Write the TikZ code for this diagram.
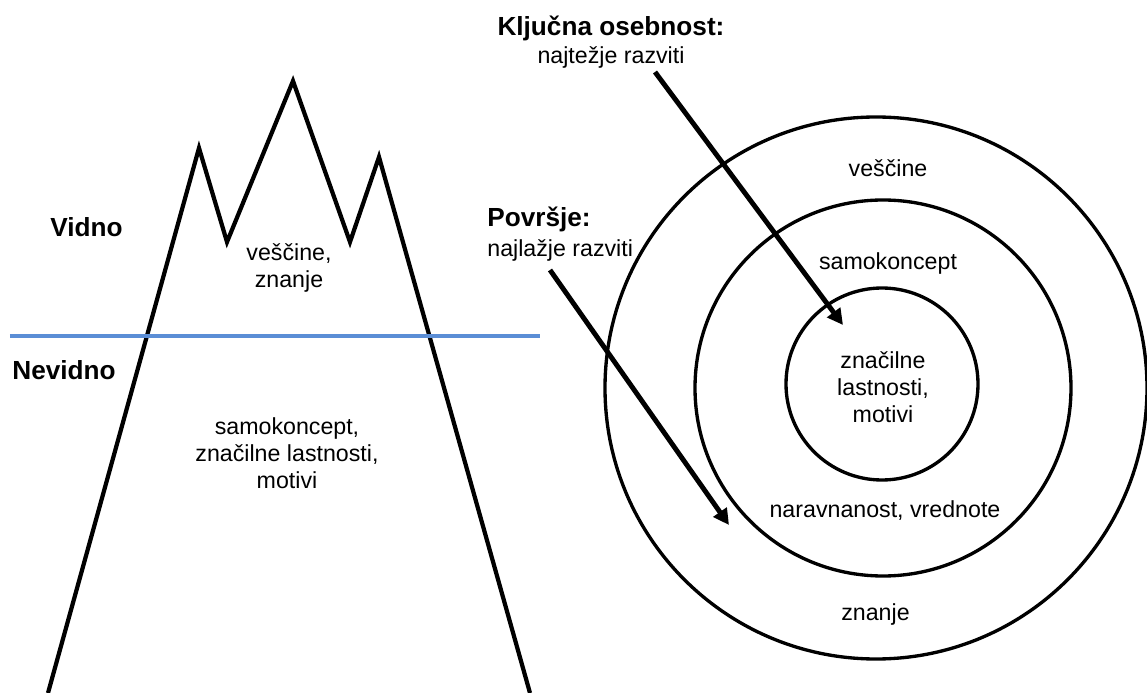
\documentclass[tikz,border=0pt]{standalone}
\usepackage{fontspec}
\setmainfont{Liberation Sans}
\usepackage{tikz}
\usetikzlibrary{arrows.meta}
\definecolor{SeaBlue}{HTML}{5B8ED6}

\tikzset{
  txt/.style={inner sep=0pt, align=center, font=\fontsize{13.2}{15.4}\selectfont},
  hdr/.style={inner sep=0pt, font=\bfseries\fontsize{14.9}{17}\selectfont},
  ring/.style={line width=1.9pt},
  pointer/.style={line width=2.8pt, -{Triangle[length=9pt,width=9pt]}}
}

\begin{document}
\begin{tikzpicture}
        \useasboundingbox (0,0) rectangle (22.94,-13.86);

        % ledena gora
        \coordinate (L) at (0.96,-13.86);
        \coordinate (P1) at (3.98,-2.96);
        \coordinate (V1) at (4.54,-4.84);
        \coordinate (P2) at (5.86,-1.62);
        \coordinate (V2) at (7.0,-4.84);
        \coordinate (P3) at (7.58,-3.14);
        \coordinate (R) at (10.6,-13.86);
        \draw[line width=2.4pt, line join=miter] (L) -- (P1) -- (V1) -- (P2) -- (V2) -- (P3) -- (R);

        \coordinate (W1) at (0.2,-6.72);
        \coordinate (W2) at (10.8,-6.72);
        \draw[SeaBlue, line width=1.9pt] (W1) -- (W2);

        \node[hdr, anchor=west] (vidno) at (1.0,-4.54) {Vidno};
        \node[hdr, anchor=west] (nevidno) at (0.24,-7.4) {Nevidno};
        \node[txt] (nad) at (5.78,-5.36) {veščine,\\ znanje};
        \node[txt] (pod) at (5.74,-9.06) {samokoncept,\\ značilne lastnosti,\\ motivi};

        % krogi
        \draw[ring] (17.52,-7.76) circle(5.42);
        \draw[ring] (17.66,-7.76) circle(3.76);
        \draw[ring] (17.64,-7.68) circle(1.92);

        \node[txt] (vescine) at (17.76,-3.36) {veščine};
        \node[txt] (samo) at (17.76,-5.28) {samokoncept};
        \node[txt] (jedro) at (17.66,-7.74) {značilne\\ lastnosti,\\ motivi};
        \node[txt] (narav) at (17.7,-10.22) {naravnanost, vrednote};
        \node[txt] (znanje) at (17.51,-12.3) {znanje};

        % oznake
        \node[hdr] (kljuc) at (12.22,-0.56) {Ključna osebnost:};
        \node[txt] (tezko) at (12.22,-1.14) {najtežje razviti};
        \node[hdr, anchor=west] (povrsje) at (9.74,-4.38) {Površje:};
        \node[txt, anchor=west] (lahko) at (9.74,-5.0) {najlažje razviti};

        \coordinate (A1) at (13.1,-1.44);
        \coordinate (B1) at (16.86,-6.5);
        \draw[pointer] (A1) -- (B1);

        \coordinate (A2) at (11.0,-5.4);
        \coordinate (B2) at (14.58,-10.5);
        \draw[pointer] (A2) -- (B2);

    \end{tikzpicture}
\end{document}
